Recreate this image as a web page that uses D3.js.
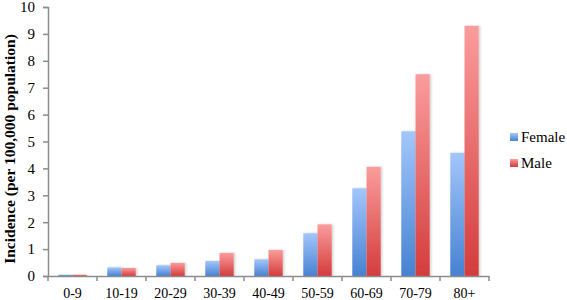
<!DOCTYPE html>
<html>
<head>
<meta charset="utf-8">
<script src="https://cdn.jsdelivr.net/npm/d3@7"></script>
<style>
  body { margin: 0; background: #fff; }
  svg, svg text { font-family: "Liberation Serif", "Times New Roman", Times, "DejaVu Serif", serif; }
</style>
</head>
<body>
<div id="chart"></div>
<script>
const WIDTH = 567;
const HEIGHT = 300;
const MARGIN = {top: 7, right: 78, bottom: 24, left: 48};

const INNER_WIDTH = WIDTH - MARGIN.left - MARGIN.right;
const INNER_HEIGHT = HEIGHT - MARGIN.top - MARGIN.bottom;

var ageGroups = ['0-9', '10-19', '20-29', '30-39', '40-49', '50-59', '60-69', '70-79', '80+'];
var female = [0.05, 0.32, 0.40, 0.56, 0.62, 1.59, 3.26, 5.38, 4.58];
var male = [0.05, 0.30, 0.49, 0.86, 0.97, 1.92, 4.06, 7.50, 9.30];
var seriesNames = ['Female', 'Male'];
var yTicks = [0, 1, 2, 3, 4, 5, 6, 7, 8, 9, 10];

var translate = function (x, y) {
  return 'translate(' + x + ',' + y + ')';
};

var svg = d3.select('#chart').append('svg')
  .attr('width', WIDTH)
  .attr('height', HEIGHT);

var defs = svg.append('defs');
var gradients = [
  {id: 'gradFemale', top: '#a3c6fb', bottom: '#4682d2'},
  {id: 'gradMale', top: '#fb9c9c', bottom: '#d43c3c'}
];
gradients.forEach(function (g) {
  var lg = defs.append('linearGradient')
    .attr('id', g.id)
    .attr('x1', 0).attr('y1', 0).attr('x2', 0).attr('y2', 1);
  lg.append('stop').attr('offset', '0%').attr('stop-color', g.top);
  lg.append('stop').attr('offset', '100%').attr('stop-color', g.bottom);
});
defs.append('filter').attr('id', 'shadow')
  .attr('x', '-20%').attr('y', '-5%').attr('width', '160%').attr('height', '110%')
  .append('feDropShadow')
  .attr('dx', 1.5).attr('dy', 0).attr('stdDeviation', 1)
  .attr('flood-color', '#000').attr('flood-opacity', 0.18);

var g = svg.append('g').attr('transform', translate(MARGIN.left, MARGIN.top));

var xScale = d3.scaleBand()
  .domain(ageGroups)
  .range([0, INNER_WIDTH])
  .paddingInner(0)
  .paddingOuter(0);

var xSub = d3.scaleBand()
  .domain(seriesNames)
  .range([xScale.bandwidth() * 0.21, xScale.bandwidth() * 0.79]);

var yScale = d3.scaleLinear()
  .domain([0, 10])
  .range([INNER_HEIGHT, 0]);

var rows = ageGroups.map(function (a, i) {
  return {age: a, values: [{name: 'Female', v: female[i]}, {name: 'Male', v: male[i]}]};
});

var groups = g.selectAll('.group')
  .data(rows)
  .enter()
  .append('g')
  .attr('transform', function (d) { return translate(xScale(d.age), 0); });

groups.selectAll('rect')
  .data(function (d) { return d.values; })
  .enter()
  .append('rect')
  .attr('x', function (d) { return xSub(d.name); })
  .attr('y', function (d) { return yScale(d.v); })
  .attr('width', xSub.bandwidth())
  .attr('height', function (d) { return INNER_HEIGHT - yScale(d.v); })
  .attr('fill', function (d) { return d.name === 'Female' ? 'url(#gradFemale)' : 'url(#gradMale)'; })
  .attr('filter', 'url(#shadow)');

// y axis
var yAxis = d3.axisLeft(yScale).tickValues(yTicks).tickSize(5).tickPadding(8);
var yg = g.append('g').call(yAxis).attr('font-family', null);
yg.select('.domain').attr('stroke', '#8c8c8c').attr('stroke-width', 1.5);
yg.selectAll('.tick line').attr('stroke', '#8c8c8c').attr('stroke-width', 1.5);
yg.selectAll('.tick text')
  .attr('font-size', 15)
  .attr('fill', '#000');

// x axis
var xAxis = d3.axisBottom(xScale).tickSize(0).tickPadding(12);
var xg = g.append('g').attr('transform', translate(0, INNER_HEIGHT)).call(xAxis).attr('font-family', null);
xg.select('.domain').attr('stroke', '#8c8c8c').attr('stroke-width', 1.5);
xg.selectAll('.tick text')
  .attr('font-size', 14)
  .attr('fill', '#000');

var boundaries = ageGroups.map(function (a) { return xScale(a); }).concat([INNER_WIDTH]);
xg.selectAll('.sep')
  .data(boundaries)
  .enter()
  .append('line')
  .attr('x1', function (d) { return d; })
  .attr('x2', function (d) { return d; })
  .attr('y1', 0)
  .attr('y2', 5)
  .attr('stroke', '#8c8c8c')
  .attr('stroke-width', 1.5);

// y title
svg.append('text')
  .attr('transform', translate(15, 149) + ' rotate(-90)')
  .attr('text-anchor', 'middle')
  .attr('font-size', 15.5)
  .attr('font-weight', 'bold')
  .text('Incidence (per 100,000 population)');

// legend
var legend = svg.append('g').attr('transform', translate(510, 137));
seriesNames.forEach(function (name, i) {
  var row = legend.append('g').attr('transform', translate(0, i * 26));
  row.append('rect')
    .attr('x', 0).attr('y', -4)
    .attr('width', 8).attr('height', 8)
    .attr('fill', i === 0 ? 'url(#gradFemale)' : 'url(#gradMale)');
  row.append('text')
    .attr('x', 11)
    .attr('y', 5)
    .attr('font-size', 15)
    .text(name);
});
</script>
</body>
</html>
